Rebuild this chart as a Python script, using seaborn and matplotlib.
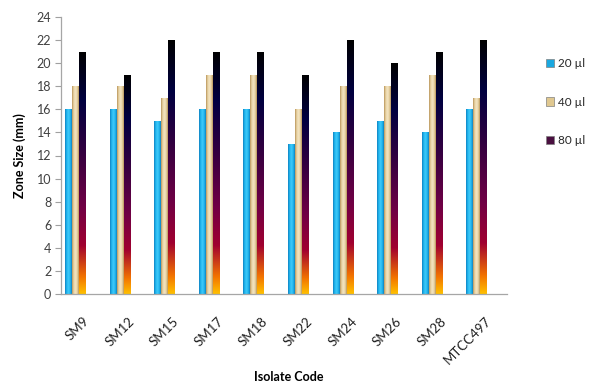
import numpy as np
import pandas as pd
import matplotlib
matplotlib.use("Agg")
import matplotlib.pyplot as plt
import seaborn as sns
from matplotlib.colors import LinearSegmentedColormap
from matplotlib.patches import Patch

isolates = ["SM9", "SM12", "SM15", "SM17", "SM18", "SM22", "SM24", "SM26", "SM28", "MTCC497"]
series = ["20 µl", "40 µl", "80 µl"]
v20 = [16, 16, 15, 16, 16, 13, 14, 15, 14, 16]
v40 = [18, 18, 17, 19, 19, 16, 18, 18, 19, 17]
v80 = [21, 19, 22, 21, 21, 19, 22, 20, 21, 22]
yticks = list(range(0, 25, 2))

df = pd.DataFrame({
    "Isolate": isolates * 3,
    "Zone": v20 + v40 + v80,
    "Volume": [s for s in series for _ in isolates],
})

sns.set_theme(style="white")
plt.rcParams["font.family"] = ["Lato", "DejaVu Sans"]

fig = plt.figure(figsize=(5.92, 3.84), dpi=100)
ax = fig.add_axes([61/592, 1-294/384, (507-61)/592, (294-17)/384])

base_cols = ["#12ace6", "#e3cb98", "#1a0a30"]
sns.barplot(data=df, x="Isolate", y="Zone", hue="Volume", palette=base_cols,
            width=0.47, legend=False, ax=ax, saturation=1, errorbar=None)

shift = -0.175
sunset = LinearSegmentedColormap.from_list(
    "sunset", [(0.0, "#ffbf00"), (0.07, "#f27300"), (0.2, "#a00030"),
               (0.36, "#700045"), (0.6, "#300040"), (0.8, "#000040"), (1.0, "#000000")])
blue_h = LinearSegmentedColormap.from_list("bh", ["#1080c0", "#20b8f0", "#40c8f8", "#20b8f0", "#1080c0"])
tan_h = LinearSegmentedColormap.from_list("th", ["#b8955a", "#e8d3a4", "#f3e4c2", "#e8d3a4", "#b8955a"])

for ci, cont in enumerate(ax.containers):
    for p in cont.patches:
        p.set_x(p.get_x() + shift)
        x0, w, h = p.get_x(), p.get_width(), p.get_height()
        p.set_edgecolor("none")
        if ci == 2:
            grad = np.linspace(0, 1, 256).reshape(-1, 1)
            img = ax.imshow(grad, cmap=sunset, origin="lower", aspect="auto",
                            extent=[x0, x0 + w, 0, h], zorder=p.get_zorder() + 0.1)
        else:
            grad = np.linspace(0, 1, 64).reshape(1, -1)
            cm = blue_h if ci == 0 else tan_h
            img = ax.imshow(grad, cmap=cm, aspect="auto",
                            extent=[x0, x0 + w, 0, h], zorder=p.get_zorder() + 0.1)
        img.set_clip_path(p)

ax.set_xlim(-0.5, 9.5)
ax.set_ylim(0, 24)
ax.set_yticks(yticks)
ax.set_yticklabels([str(t) for t in yticks], fontsize=9, color="#404040")
ax.set_xticks(range(len(isolates)))
ax.set_xticklabels(isolates, rotation=45, ha="right", rotation_mode="anchor",
                   fontsize=9.5, color="#202020")
ax.tick_params(axis="x", length=0, pad=15)
ax.tick_params(axis="y", length=4, width=0.8, color="#a0a0a0", left=True, pad=3)
for s in ["top", "right"]:
    ax.spines[s].set_visible(False)
for s in ["left", "bottom"]:
    ax.spines[s].set_color("#a6a6a6")
    ax.spines[s].set_linewidth(0.9)

ax.set_ylabel("Zone Size (mm)", fontsize=9, fontweight="bold", color="#000000", labelpad=8)
ax.set_xlabel("")
fig.text(289/592, 1-377/384, "Isolate Code", ha="center", va="center",
         fontsize=9, fontweight="bold", color="#000000")

leg_cols = ["#1aa8e0", "#e0c890", "#4a1040"]
handles = [Patch(facecolor=c, edgecolor="#808080", linewidth=0.5) for c in leg_cols]
fig.legend(handles, series, loc="upper left", bbox_to_anchor=(540/592, 1-52/384),
           frameon=False, fontsize=8.5, labelspacing=2.35, handlelength=0.7,
           handleheight=0.7, handletextpad=0.35, borderpad=0)

fig.savefig("out.png", dpi=100)
